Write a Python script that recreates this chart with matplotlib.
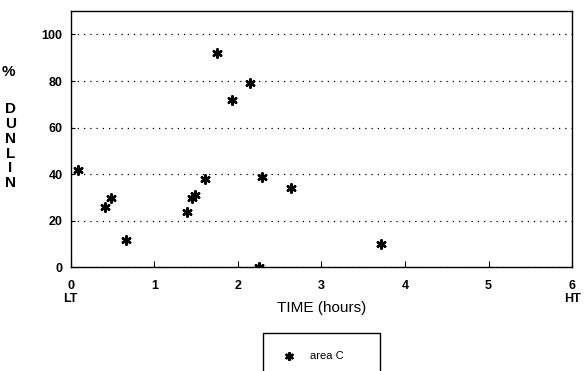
import numpy as np
import matplotlib.pyplot as plt

plt.rcParams['font.family'] = ['Liberation Sans', 'DejaVu Sans']

# --- data ---
time_h = [0.09, 0.41, 0.48, 0.66, 1.39, 1.45, 1.49, 1.61, 1.75, 1.93, 2.15, 2.25, 2.29, 2.63, 3.71]
dunlin = [42, 26, 30, 12, 24, 30, 31, 38, 92, 72, 79, 0, 39, 34, 10]
xticks = [0, 1, 2, 3, 4, 5, 6]
xticklabels = ['0\nLT', '1', '2', '3', '4', '5', '6\nHT']
yticks = [0, 20, 40, 60, 80, 100]

fig = plt.figure(figsize=(5.85, 3.71), dpi=100)
ax = fig.add_axes([0.121, 0.279, 0.857, 0.691])

ax.scatter(time_h, dunlin, marker=(6, 2, 0), s=36, color='black', linewidths=1.8, label='area C', zorder=3)

ax.set_xlim(0, 6)
ax.set_ylim(0, 110)
ax.set_xticks(xticks)
ax.set_xticklabels(xticklabels, fontsize=9, fontweight='bold', linespacing=1.1)
ax.set_yticks(yticks)
ax.set_yticklabels([str(v) for v in yticks], fontsize=9, fontweight='bold')
ax.tick_params(axis='x', direction='in', length=4, pad=9)
ax.tick_params(axis='y', direction='in', length=3, pad=6)
ax.grid(axis='y', linestyle=(0, (1, 4)), color='black', linewidth=0.9)
for sp in ax.spines.values():
    sp.set_linewidth(1.0)

ax.set_xlabel('TIME (hours)', fontsize=11, labelpad=-3)
fig.text(0.014, 0.805, '%', fontsize=11, fontweight='bold', ha='center', va='center')
fig.text(0.018, 0.606, 'D\nU\nN\nL\nI\nN', fontsize=11, fontweight='bold',
         ha='center', va='center', linespacing=1.07)

# legend box below the axes, cut off by the bottom edge as in the scan
fig.legend(loc='upper left', bbox_to_anchor=(263 / 585, 0, 117 / 585, 1 - 333 / 371),
           mode='expand', fancybox=False, edgecolor='black', framealpha=1, fontsize=8,
           handlelength=1.4, borderpad=1.6, handletextpad=1.2, borderaxespad=0,
           markerscale=0.8)

fig.savefig('out.png', dpi=100)
